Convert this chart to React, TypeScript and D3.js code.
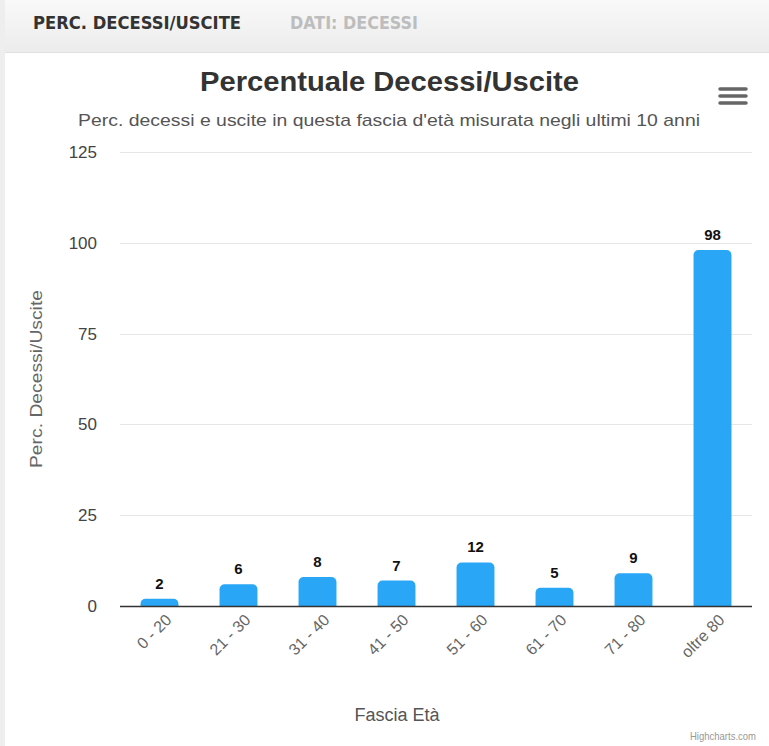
import React from "react";
import * as d3 from "d3";

const categories = ["0 - 20", "21 - 30", "31 - 40", "41 - 50", "51 - 60", "61 - 70", "71 - 80", "oltre 80"];
const values = [2, 6, 8, 7, 12, 5, 9, 98];
const yTicks = [0, 25, 50, 75, 100, 125];

const W = 769;
const H = 746;
const plotLeft = 120;
const plotRight = 752;
const plotTop = 152;
const plotBottom = 606;

export default function App() {
  const x = d3.scaleBand<string>().domain(categories).range([plotLeft, plotRight]).paddingInner(0.52).paddingOuter(0.26);
  const y = d3.scaleLinear().domain([0, 125]).range([plotBottom, plotTop]);
  const bw = x.bandwidth();
  const r = 5;
  const barPath = (c: string, v: number) => {
    const x0 = x(c)!;
    const y0 = y(v);
    const h = plotBottom - y0;
    const rr = Math.min(r, h, bw / 2);
    const p = d3.path();
    p.moveTo(x0, plotBottom);
    p.lineTo(x0, y0 + rr);
    p.arcTo(x0, y0, x0 + rr, y0, rr);
    p.lineTo(x0 + bw - rr, y0);
    p.arcTo(x0 + bw, y0, x0 + bw, y0 + rr, rr);
    p.lineTo(x0 + bw, plotBottom);
    p.closePath();
    return p.toString();
  };
  const font = "Arial, 'Liberation Sans', Helvetica, sans-serif";
  const condensed = "'DejaVu Sans Condensed', 'Liberation Sans Narrow', sans-serif";
  return (
    <div style={{ position: "absolute", left: 0, top: 0, width: W, height: H, overflow: "hidden" }}>
      <svg width={W} height={H} style={{ display: "block" }} fontFamily={font}>
        <defs>
          <linearGradient id="tabg" x1="0" y1="0" x2="0" y2="1">
            <stop offset="0" stopColor="#f9f9f9" />
            <stop offset="1" stopColor="#ececec" />
          </linearGradient>
        </defs>
        <rect x={0} y={0} width={W} height={H} fill="#ffffff" />
        <rect x={0} y={0} width={W} height={52} fill="url(#tabg)" />
        <line x1={0} x2={W} y1={52.5} y2={52.5} stroke="#e0e0e0" />
        <rect x={0} y={0} width={5} height={H} fill="#eeeeee" />
        <text x={33} y={29} fontSize={17} fontWeight="bold" fill="#333" fontFamily={condensed} textLength={208} lengthAdjust="spacingAndGlyphs">PERC. DECESSI/USCITE</text>
        <text x={290} y={29} fontSize={17} fontWeight="bold" fill="#bdbdbd" fontFamily={condensed} textLength={128} lengthAdjust="spacingAndGlyphs">DATI: DECESSI</text>

        <text x={389.5} y={91} textAnchor="middle" fontSize={27} fontWeight="bold" fill="#333" textLength={379} lengthAdjust="spacingAndGlyphs">Percentuale Decessi/Uscite</text>
        <text x={389} y={126} textAnchor="middle" fontSize={17} fill="#555" textLength={622} lengthAdjust="spacingAndGlyphs">Perc. decessi e uscite in questa fascia d'età misurata negli ultimi 10 anni</text>

        <g stroke="#666" strokeWidth={3.5} strokeLinecap="round">
          {[89, 96, 103].map((yy) => (
            <line key={yy} x1={720} x2={746} y1={yy} y2={yy} />
          ))}
        </g>

        {yTicks.filter((t) => t > 0).map((t) => (
          <line key={t} x1={plotLeft} x2={plotRight} y1={Math.round(y(t)) + 0.5} y2={Math.round(y(t)) + 0.5} stroke="#e6e6e6" />
        ))}
        {yTicks.map((t) => (
          <text key={t} x={97} y={y(t) + 6} textAnchor="end" fontSize={17} fill="#444">{t}</text>
        ))}
        <text transform={`translate(42, ${(plotTop + plotBottom) / 2}) rotate(-90)`} textAnchor="middle" fontSize={16} fill="#666" textLength={178} lengthAdjust="spacingAndGlyphs">Perc. Decessi/Uscite</text>

        {categories.map((c, i) => (
          <path key={c} d={barPath(c, values[i])} fill="#2aa6f6" />
        ))}
        {categories.map((c, i) => (
          <text key={c} x={x(c)! + bw / 2} y={y(values[i]) - 10} textAnchor="middle" fontSize={15} fontWeight="bold" fill="#111">{values[i]}</text>
        ))}
        <line x1={plotLeft} x2={plotRight} y1={plotBottom + 0.5} y2={plotBottom + 0.5} stroke="#333" strokeWidth={1.5} />

        {categories.map((c) => (
          <text key={c} transform={`translate(${x(c)! + bw / 2 + 13}, ${plotBottom + 15}) rotate(-45)`} textAnchor="end" fontSize={16} fill="#666">{c}</text>
        ))}
        <text x={397} y={721} textAnchor="middle" fontSize={18} fill="#555">Fascia Età</text>
        <text x={756} y={740} textAnchor="end" fontSize={11} fill="#999" textLength={66} lengthAdjust="spacingAndGlyphs">Highcharts.com</text>
      </svg>
    </div>
  );
}
